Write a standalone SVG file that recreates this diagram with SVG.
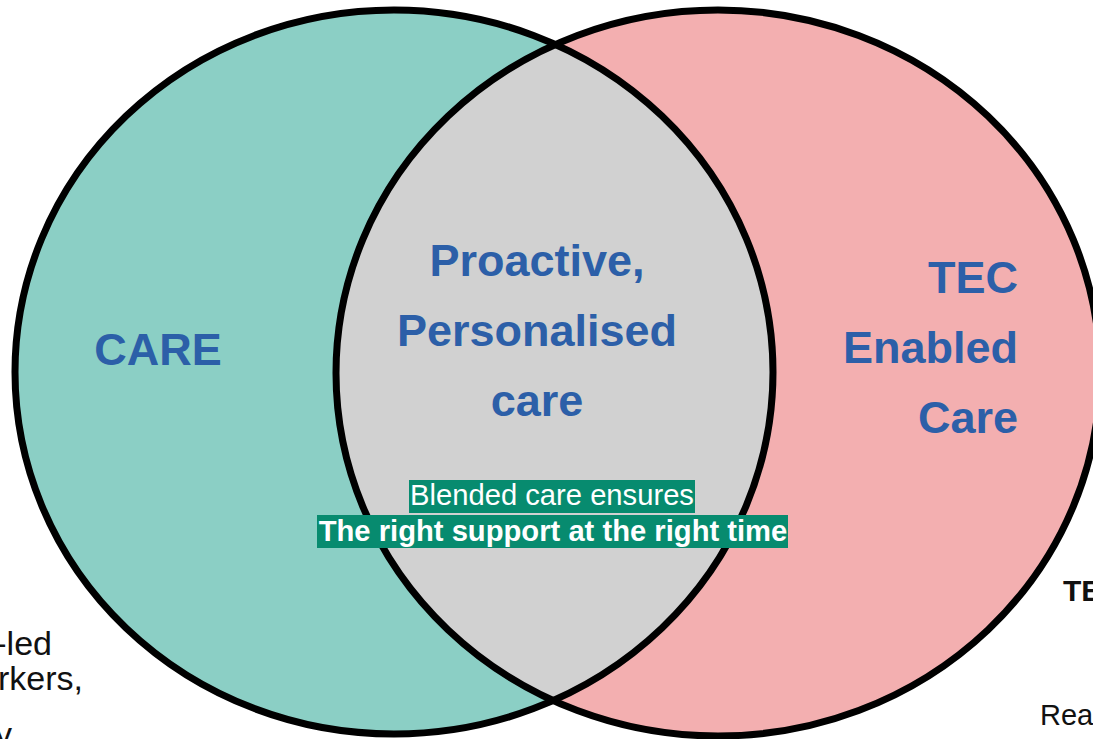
<svg xmlns="http://www.w3.org/2000/svg" width="1093" height="739" viewBox="0 0 1093 739">
  <style>
    .ring { fill: none; stroke: #000; stroke-width: 7; }
    .head { font-family: "Liberation Sans", Arial, sans-serif; font-weight: bold; font-size: 45px; fill: #2C5FA8; }
    .band { fill: #078B6F; }
    .bandtxt { font-family: "Liberation Sans", Arial, sans-serif; font-size: 29.2px; fill: #fff; text-anchor: middle; }
    .side { font-family: "Liberation Sans", Arial, sans-serif; fill: #111; }
  </style>
  <defs>
    <clipPath id="leftClip">
      <ellipse cx="394" cy="372" rx="379" ry="362"/>
    </clipPath>
  </defs>
  <rect width="1093" height="739" fill="#fff"/>

  <g id="care-circle">
    <ellipse cx="394" cy="372" rx="379" ry="362" fill="#8BCFC5"/>
  </g>
  <g id="tec-circle">
    <ellipse cx="718" cy="373" rx="382" ry="363" fill="#F3AFB0"/>
  </g>
  <g id="overlap">
    <ellipse cx="718" cy="373" rx="382" ry="363" fill="#D1D1D1" clip-path="url(#leftClip)"/>
  </g>
  <g id="outlines">
    <ellipse class="ring" cx="394" cy="372" rx="379" ry="362"/>
    <ellipse class="ring" cx="718" cy="373" rx="382" ry="363"/>
  </g>

  <g id="care-label">
    <text class="head" x="158" y="365" text-anchor="middle">CARE</text>
  </g>
  <g id="tec-label">
    <text class="head" x="1018" y="293" text-anchor="end">TEC</text>
    <text class="head" x="1018" y="363" text-anchor="end">Enabled</text>
    <text class="head" x="1018" y="433" text-anchor="end">Care</text>
  </g>
  <g id="overlap-label">
    <text class="head" x="537" y="276" text-anchor="middle">Proactive,</text>
    <text class="head" x="537" y="346" text-anchor="middle">Personalised</text>
    <text class="head" x="537" y="416" text-anchor="middle">care</text>
  </g>
  <g id="blended-note">
    <rect class="band" x="409" y="480" width="286" height="33"/>
    <rect class="band" x="317" y="515" width="471" height="33"/>
    <text class="bandtxt" x="552" y="505">Blended care ensures</text>
    <text class="bandtxt" x="553" y="541" font-weight="bold">The right support at the right time</text>
  </g>

  <g id="left-side-text">
    <text class="side" x="52" y="655" font-size="34" text-anchor="end">-led</text>
    <text class="side" x="83" y="690" font-size="34" text-anchor="end">rkers,</text>
    <text class="side" x="12" y="746" font-size="34" text-anchor="end">y</text>
  </g>
  <g id="right-side-text">
    <text class="side" x="1063" y="601" font-size="30" font-weight="bold">TE</text>
    <text class="side" x="1040" y="725" font-size="29">Rea</text>
  </g>
</svg>
